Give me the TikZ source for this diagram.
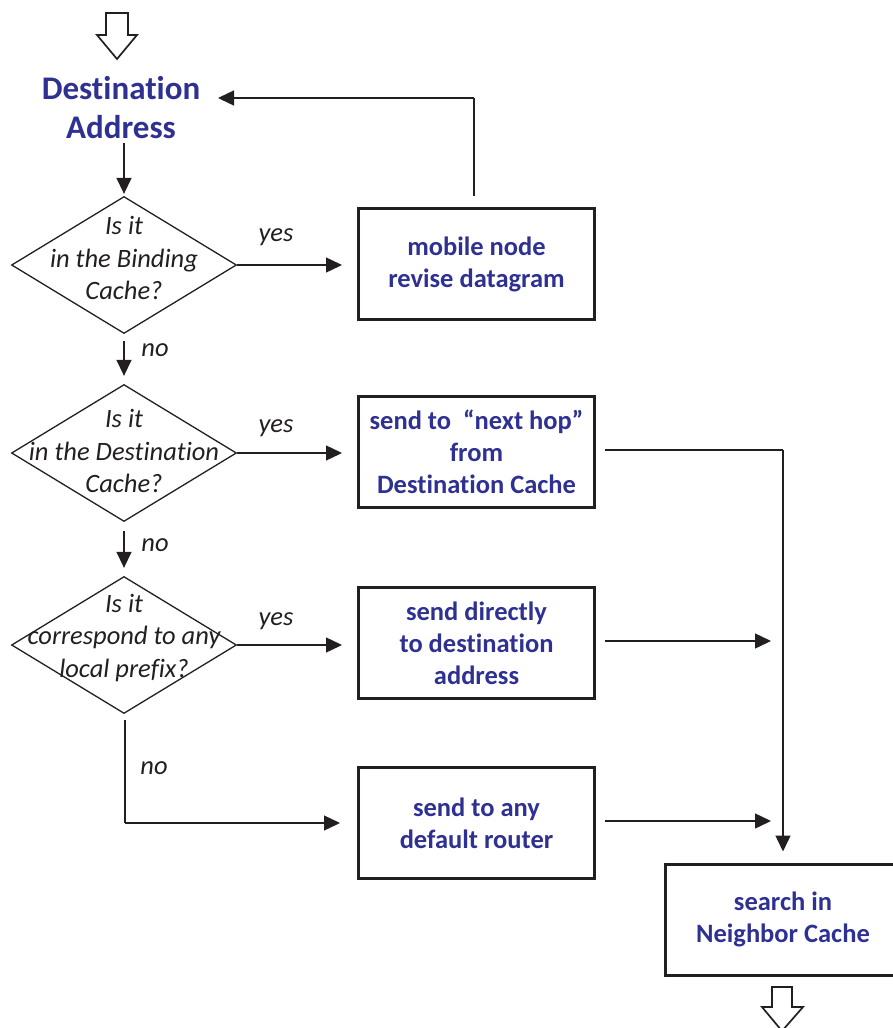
\documentclass[tikz,border=0pt]{standalone}
\usepackage{fontspec}
\setmainfont{Carlito}[Ligatures=NoCommon]
\usetikzlibrary{arrows.meta,shapes.geometric}
\definecolor{titleblue}{HTML}{2E3192}
\definecolor{ink}{HTML}{231F20}

\begin{document}
\begin{tikzpicture}[x=1pt,y=-1pt,
  conn/.style={draw=ink, line width=1.4pt, -{Triangle[length=16pt,width=15pt]}},
  plain/.style={draw=ink, line width=1.4pt},
  stepbox/.style={draw=ink, line width=3pt, minimum width=236pt, minimum height=111pt,
    inner sep=0pt, align=center, text=titleblue,
    font=\bfseries\fontsize{26.5}{32}\selectfont},
  decision/.style={draw=ink, line width=1.3pt, diamond, minimum width=225pt,
    minimum height=137pt, inner sep=0pt},
  qtext/.style={align=center, text=ink, inner sep=0pt,
    font=\itshape\fontsize{26.5}{32.5}\selectfont},
  lbl/.style={text=ink, inner sep=0pt, font=\itshape\fontsize{26.5}{30}\selectfont},
  bigarrow/.style={draw=ink, line width=1.7pt, fill=white, line join=miter}
]
\useasboundingbox (0,0) rectangle (892,1028);

% entry arrow
\draw[bigarrow] (106,13) -- (128,13) -- (128,35) -- (137,35) -- (117,59)
  -- (97,35) -- (106,35) -- cycle;

% start label
\node[align=center, text=titleblue, inner sep=0pt,
  font=\bfseries\fontsize{33}{39}\selectfont] (dest) at (121,108)
  {Destination\\Address};

% decisions
\node[decision] (d1) at (124,265) {};
\node[qtext] (q1) at (124,258) {Is it\\in the Binding\\Cache?};
\node[decision] (d2) at (124,453) {};
\node[qtext] (q2) at (124,451) {Is it\\in the Destination\\Cache?};
\node[decision] (d3) at (124,645) {};
\node[qtext] (q3) at (124,638) {Is it\\correspond to any\\local prefix?};

% actions
\node[stepbox] (b1) at (476.5,264) {mobile node\\revise datagram};
\node[stepbox] (b2) at (476.5,451.5) {send to \ “next hop”\\from\\Destination Cache};
\node[stepbox] (b3) at (476.5,643) {send directly\\to destination\\address};
\node[stepbox] (b4) at (476.5,823) {send to any\\default router};
\node[stepbox] (b5) at (783,919.5) {search in\\Neighbor Cache};

% exit arrow
\draw[bigarrow] (772,987) -- (792,987) -- (792,1007) -- (803,1007) -- (782,1031)
  -- (762,1007) -- (772,1007) -- cycle;

% turning points of the connectors
\coordinate (loopA) at (474,98);
\coordinate (join) at (783,450);
\coordinate (m3) at (771,641);
\coordinate (m4) at (771,821);
\coordinate (noC) at (125,823);

% main column
\draw[conn, shorten <=4pt, shorten >=2pt] (dest.south -| d1.north) -- (d1.north);
\draw[conn, shorten <=7pt, shorten >=8pt] (d1.south) -- (d2.north);
\draw[conn, shorten <=9pt, shorten >=8pt] (d2.south) -- (d3.north);
\draw[plain, shorten <=6pt] (d3.south -| noC) -- (noC);
\draw[conn] (noC) -- (noC -| b4.west) [shorten >=17pt];

% yes branches
\draw[conn, shorten >=15pt] (d1.east) -- (d1.east -| b1.west);
\draw[conn, shorten >=15pt] (d2.east) -- (d2.east -| b2.west);
\draw[conn, shorten >=15pt] (d3.east) -- (d3.east -| b3.west);

% loop back to the destination address
\draw[plain, shorten <=11pt] (b1.north -| loopA) -- (loopA);
\draw[conn] (loopA) -- (218,98);

% towards the neighbor cache
\draw[plain, shorten <=9pt] (join -| b2.east) -- (join);
\draw[conn, shorten >=11pt] (join) -- (join |- b5.north);
\draw[conn, shorten <=9pt] (m3 -| b3.east) -- (m3);
\draw[conn, shorten <=9pt] (m4 -| b4.east) -- (m4);

% branch labels
\node[lbl] (y1) at (276,237) {yes};
\node[lbl] (y2) at (276,428) {yes};
\node[lbl] (y3) at (276,621) {yes};
\node[lbl] (n1) at (155,350) {no};
\node[lbl] (n2) at (155,545) {no};
\node[lbl] (n3) at (154,768) {no};
\end{tikzpicture}
\end{document}
